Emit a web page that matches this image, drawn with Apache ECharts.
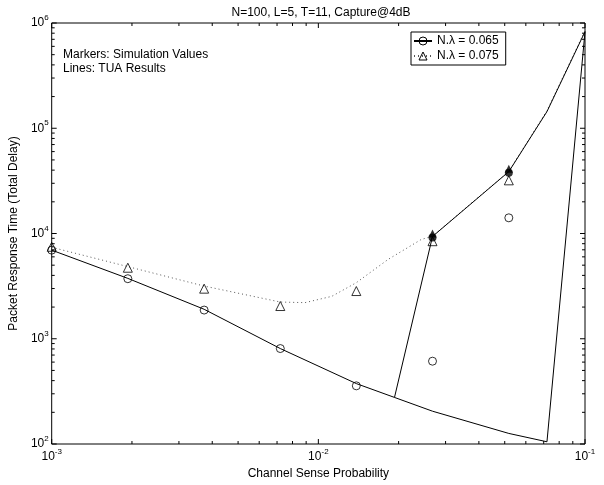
<!DOCTYPE html>
<html><head><meta charset="utf-8">
<script src="https://cdn.jsdelivr.net/npm/echarts@6/dist/echarts.min.js"></script>
<style>html,body{margin:0;padding:0;background:#fff}#c{width:604px;height:485px}</style>
</head><body><div id="c"></div>
<script>
// ---------- text ----------
const titleText = 'N=100, L=5, T=11, Capture@4dB';
const xName = 'Channel Sense Probability';
const yName = 'Packet Response Time (Total Delay)';
const legendNames = ['N.\u03bb = 0.065', 'N.\u03bb = 0.075'];
const noteLines = ['Markers: Simulation Values', 'Lines: TUA Results'];

// ---------- simulation markers ----------
const simX = [0.001, 0.00193, 0.00373, 0.0072, 0.01388, 0.0268, 0.0518];
const simCircle = [6950, 3720, 1873, 807, 357, 612, 14090];
const simTriangle = [7480, 4730, 2991, 2046, 2840, 8450, 32000];

// filled markers (TUA points where the branches meet)
const filledX = [0.0268, 0.0518];
const filledCircle = [9160, 37850];
const filledTriangle = [10000, 41300];

// ---------- TUA lines ----------
const tuaSolidX = [0.001, 0.00193, 0.00373, 0.0072, 0.01388, 0.0193, 0.0268, 0.0518, 0.072, 0.1, 0.072, 0.0518, 0.0268, 0.0193];
const tuaSolidY = [6950, 3746, 1905, 807, 375, 277, 205, 126, 105, 827000, 144000, 38700, 9370, 277];
const tuaDottedX = [0.001, 0.00193, 0.00373, 0.0072, 0.00891, 0.01123, 0.01388, 0.01826, 0.0243, 0.0268, 0.0518, 0.072, 0.1];
const tuaDottedY = [7400, 4845, 3167, 2233, 2203, 2529, 3410, 5670, 8770, 9420, 39000, 147000, 845000];

// ---------- axes ----------
const xMin = 0.001, xMax = 0.1, yMin = 100, yMax = 1e6;
const xMajorTicks = [0.001, 0.01, 0.1];
const xMinorTicks = [0.002, 0.003, 0.004, 0.005, 0.006, 0.007, 0.008, 0.009,
                     0.02, 0.03, 0.04, 0.05, 0.06, 0.07, 0.08, 0.09];
const yMajorTicks = [1e2, 1e3, 1e4, 1e5, 1e6];
const yMinorTicks = [200, 300, 400, 500, 600, 700, 800, 900,
                     2000, 3000, 4000, 5000, 6000, 7000, 8000, 9000,
                     20000, 30000, 40000, 50000, 60000, 70000, 80000, 90000,
                     200000, 300000, 400000, 500000, 600000, 700000, 800000, 900000];

const F = 'Liberation Sans, Arial, Helvetica, sans-serif';
const zip = (xs, ys) => xs.map((x, i) => [x, ys[i]]);
const hollow = {color: 'rgba(255,255,255,0)', borderColor: '#000', borderWidth: 1};

function powLabel(v) {
  const e = Math.round(Math.log10(v));
  return '{b|10}{s|' + e + '}';
}
const richSup = {
  b: {fontSize: 12, fontFamily: F, color: '#000', lineHeight: 18},
  s: {fontSize: 8, fontFamily: F, color: '#000', lineHeight: 10, verticalAlign: 'top'}
};

function tickSeries(values, axis, len) {
  return {
    type: 'custom', silent: true, z: 6, clip: false,
    data: values.map(v => axis === 'x' ? [v, yMin] : [xMin, v]),
    renderItem: function (params, api) {
      const stroke = {stroke: '#000', lineWidth: 1};
      let a, b, sh1, sh2;
      if (axis === 'x') {
        const v = api.value(0);
        a = api.coord([v, yMin]); b = api.coord([v, yMax]);
        sh1 = {x1: a[0], y1: a[1], x2: a[0], y2: a[1] - len};
        sh2 = {x1: b[0], y1: b[1], x2: b[0], y2: b[1] + len};
      } else {
        const v = api.value(1);
        a = api.coord([xMin, v]); b = api.coord([xMax, v]);
        sh1 = {x1: a[0], y1: a[1], x2: a[0] + len, y2: a[1]};
        sh2 = {x1: b[0], y1: b[1], x2: b[0] - len, y2: b[1]};
      }
      return {type: 'group', children: [
        {type: 'line', shape: sh1, style: stroke},
        {type: 'line', shape: sh2, style: stroke}
      ]};
    }
  };
}

const chart = echarts.init(document.getElementById('c'), null, {renderer: 'canvas'});
chart.setOption({
  animation: false,
  backgroundColor: '#fff',
  title: {
    text: titleText, left: 316, top: 2, textAlign: 'center',
    textStyle: {fontFamily: F, fontSize: 12, fontWeight: 'normal', color: '#000'}
  },
  grid: {left: 48, right: 19, top: 23, bottom: 40, show: true, borderColor: '#000', borderWidth: 1, backgroundColor: 'transparent'},
  legend: {
    data: [
      {name: legendNames[0], itemStyle: hollow},
      {name: legendNames[1], itemStyle: hollow}
    ],
    orient: 'vertical', left: 411, top: 32,
    backgroundColor: '#fff', borderColor: '#000', borderWidth: 1,
    padding: [3, 7, 3, 2], itemGap: 3, itemWidth: 18, itemHeight: 10,
    itemStyle: hollow,
    textStyle: {fontFamily: F, fontSize: 12, color: '#000'}
  },
  graphic: [{
    type: 'text', left: 63, top: 48, z: 10,
    style: {text: noteLines.join('\n'), font: '12px ' + F, fill: '#000', lineHeight: 14}
  }],
  xAxis: {
    type: 'log', logBase: 10, min: xMin, max: xMax,
    name: xName, nameLocation: 'middle', nameGap: 24,
    nameTextStyle: {fontFamily: F, fontSize: 12, color: '#000'},
    axisLine: {show: false}, axisTick: {show: false}, splitLine: {show: false},
    axisLabel: {margin: 4, formatter: powLabel, rich: richSup}
  },
  yAxis: {
    type: 'log', logBase: 10, min: yMin, max: yMax,
    name: yName, nameLocation: 'middle', nameGap: 23,
    nameTextStyle: {fontFamily: F, fontSize: 12, color: '#000'},
    axisLine: {show: false}, axisTick: {show: false}, splitLine: {show: false},
    axisLabel: {margin: 3, formatter: powLabel, rich: richSup}
  },
  series: [
    {
      name: legendNames[0], type: 'line', data: zip(tuaSolidX, tuaSolidY),
      symbol: 'circle', symbolSize: 8, showSymbol: false, z: 3,
      lineStyle: {color: '#000', width: 1},
      itemStyle: hollow
    },
    {
      name: legendNames[1], type: 'line', data: zip(tuaDottedX, tuaDottedY),
      symbol: 'triangle', symbolSize: 8, showSymbol: false, z: 2,
      lineStyle: {color: '#555', width: 1, type: [1, 3]},
      itemStyle: hollow
    },
    {
      type: 'scatter', data: zip(simX, simCircle), symbol: 'circle', symbolSize: 8, z: 4,
      itemStyle: hollow
    },
    {
      type: 'scatter', data: zip(simX, simTriangle), symbol: 'triangle', symbolSize: 9, z: 4,
      itemStyle: hollow
    },
    {
      type: 'scatter', data: zip(filledX, filledCircle), symbol: 'circle', symbolSize: 8, z: 5,
      itemStyle: {color: '#000'}
    },
    {
      type: 'scatter', data: zip(filledX, filledTriangle), symbol: 'triangle', symbolSize: 8, z: 5,
      itemStyle: {color: '#000'}
    },
    tickSeries(xMajorTicks, 'x', 5),
    tickSeries(xMinorTicks, 'x', 3),
    tickSeries(yMajorTicks, 'y', 5),
    tickSeries(yMinorTicks, 'y', 3)
  ]
});
</script>
</body></html>
